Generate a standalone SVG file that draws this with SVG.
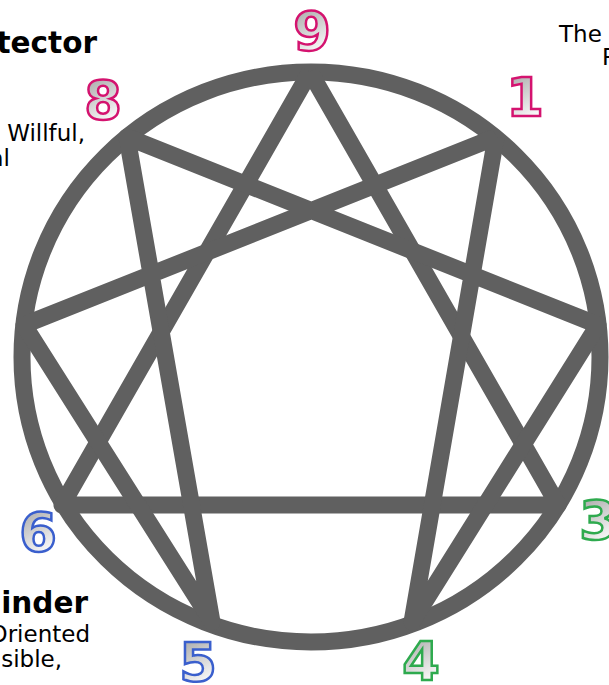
<svg xmlns="http://www.w3.org/2000/svg" width="609" height="685" viewBox="0 0 609 685">
<defs>
<linearGradient id="g" x1="0" y1="0" x2="0.35" y2="1">
<stop offset="0" stop-color="#9a9a9a"/>
<stop offset="1" stop-color="#ffffff"/>
</linearGradient>
<style>
.ln{stroke:#606060;stroke-width:17;fill:none;stroke-linecap:butt;stroke-linejoin:round}
.num{font-family:"DejaVu Sans",sans-serif;font-weight:bold;font-size:54px;text-anchor:middle;fill:url(#g);stroke-width:2.5;paint-order:fill}
.m{stroke:#d4136f}
.b{stroke:#3a5fcd}
.gr{stroke:#2eaa4e}
.h{font-family:"DejaVu Sans",sans-serif;font-weight:bold;font-size:29.5px;fill:#000}
.t{font-family:"DejaVu Sans",sans-serif;font-size:23px;fill:#000}
</style>
</defs>
<rect width="609" height="685" fill="#ffffff"/>
<g id="connectors">
<ellipse class="ln" cx="311" cy="357" rx="289" ry="285"/>
<polyline class="ln" points="310,72 62,505 558,505 310,72"/>
<polyline class="ln" points="496,137 412,622 598,325 127,137 212,622 24,325 496,137"/>
</g>
<g id="n9"><text class="num m" x="312" y="50">9</text></g>
<g id="n1"><text class="num m" x="525" y="116">1</text></g>
<g id="n8"><text class="num m" x="103" y="119">8</text></g>
<g id="n7"><text class="num b" x="-16" y="334">7</text></g>
<g id="n6"><text class="num b" x="38" y="551">6</text></g>
<g id="n5"><text class="num b" x="198" y="681">5</text></g>
<g id="n4"><text class="num gr" x="421" y="680">4</text></g>
<g id="n3"><text class="num gr" x="598" y="539">3</text></g>
<g id="desc8">
<text class="h" x="97" y="53" text-anchor="end">tector</text>
<text class="t" x="85" y="141" text-anchor="end">Willful,</text>
<text class="t" x="10" y="166" text-anchor="end">al</text>
</g>
<g id="desc5">
<text class="h" x="88" y="613" text-anchor="end">inder</text>
<text class="t" x="90" y="642" text-anchor="end">Oriented</text>
<text class="t" x="62" y="667" text-anchor="end">sible,</text>
</g>
<g id="desc1">
<text class="t" x="559" y="42">The</text>
<text class="t" x="602" y="65">P</text>
</g>
</svg>
